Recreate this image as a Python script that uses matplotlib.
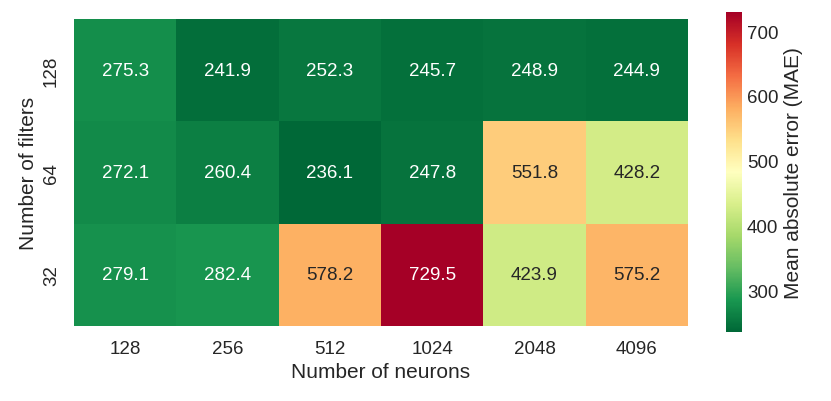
import matplotlib
matplotlib.use("Agg")
import matplotlib.pyplot as plt
import seaborn as sns
import numpy as np
import pandas as pd

filters = [128, 64, 32]
neurons = [128, 256, 512, 1024, 2048, 4096]
mae_128 = [275.3, 241.9, 252.3, 245.7, 248.9, 244.9]
mae_64 = [272.1, 260.4, 236.1, 247.8, 551.8, 428.2]
mae_32 = [279.1, 282.4, 578.2, 729.5, 423.9, 575.2]

sns.set_theme(style="white")
plt.rcParams['font.family'] = ['Liberation Sans', 'DejaVu Sans']
plt.rcParams['text.color'] = '#262626'
plt.rcParams['axes.labelcolor'] = '#262626'
plt.rcParams['xtick.color'] = '#262626'
plt.rcParams['ytick.color'] = '#262626'

df = pd.DataFrame([mae_128, mae_64, mae_32], index=filters, columns=neurons)

fig = plt.figure(figsize=(8.31, 4.02), dpi=100)
ax = fig.add_axes([74/831, 1-327/402, (688-74)/831, (327-20)/402])
cax = fig.add_axes([726/831, 1-333/402, 16/831, (333-13)/402])
sns.heatmap(df, ax=ax, cbar_ax=cax, cmap="RdYlGn_r", annot=True, fmt=".1f",
            annot_kws={"fontsize": 13.5},
            cbar_kws={"label": "Mean absolute error (MAE)"})
ax.set_xlabel("Number of neurons", fontsize=15)
ax.set_ylabel("Number of filters", fontsize=15)
ax.tick_params(axis='both', labelsize=13.5, length=0, pad=10)
cax.tick_params(labelsize=13.5, length=0)
cax.yaxis.label.set_size(15)
cax.set_yticks([300, 400, 500, 600, 700])
fig.savefig("out.png", dpi=100)
